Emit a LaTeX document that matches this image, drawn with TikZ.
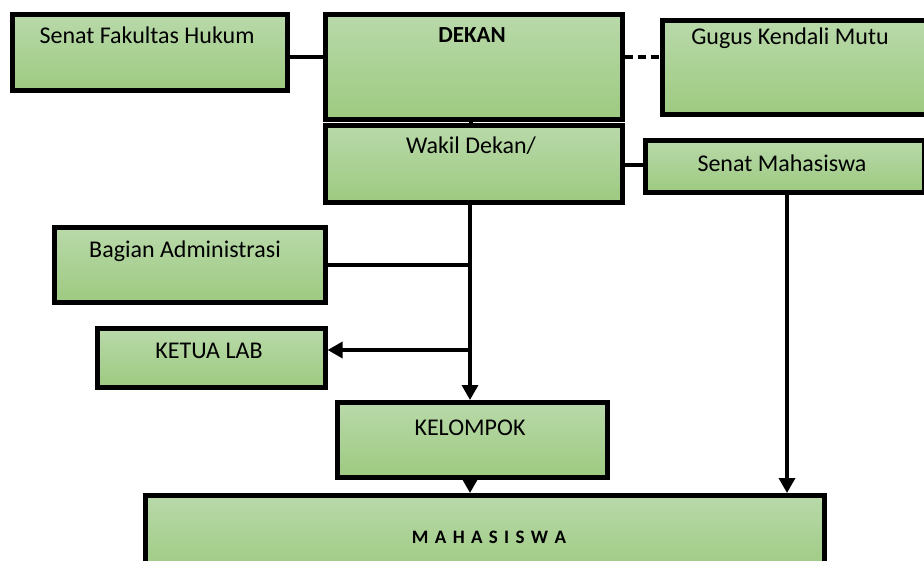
\documentclass[tikz,border=0pt]{standalone}
\usepackage{fontspec}
\setmainfont{Carlito}
\usetikzlibrary{arrows.meta,calc}
\definecolor{gtop}{HTML}{B9D9AA}
\definecolor{gbot}{HTML}{9DCA80}
\tikzset{
  box/.style={draw=black, line width=4.6pt, top color=gtop, bottom color=gbot, anchor=north west, inner sep=0pt},
  txt/.style={font=\fontsize{24}{27}\selectfont, inner sep=0pt},
  conn/.style={line width=3.4pt},
  arr/.style={line width=3.4pt, -{Triangle[length=15pt,width=16pt]}},
}
\begin{document}
\begin{tikzpicture}[x=1pt,y=-1pt]
\useasboundingbox (0,0) rectangle (924,561);
\clip (0,0) rectangle (924,561);
% boxes
\node[box, minimum width=275pt, minimum height=76pt] (sfh) at (10,12) {};
\node[box, minimum width=297pt, minimum height=105pt] (dekan) at (323,12) {};
\node[box, minimum width=264pt, minimum height=94pt] (gkm) at (660,18) {};
\node[box, minimum width=297pt, minimum height=77pt] (wakil) at (323,123) {};
\node[box, minimum width=279pt, minimum height=52pt] (smhs) at (643,138) {};
\node[box, minimum width=271pt, minimum height=75pt] (adm) at (52,225) {};
\node[box, minimum width=228pt, minimum height=59pt] (lab) at (95,326) {};
\node[box, minimum width=270pt, minimum height=75pt] (kel) at (335,400) {};
\node[box, minimum width=679pt, minimum height=80pt] (mhs) at (143,493) {};
% texts
\node[txt] (tsfh) at (147,35) {Senat Fakultas Hukum};
\node[txt, font=\fontsize{23}{26}\selectfont\bfseries] (tdekan) at (472,35) {DEKAN};
\node[txt] (tgkm) at (790,38) {Gugus Kendali Mutu};
\node[txt] (twakil) at (471,146) {Wakil Dekan/};
\node[txt] (tsmhs) at (782,163) {Senat Mahasiswa};
\node[txt] (tadm) at (185,251) {Bagian Administrasi};
\node[txt] (tlab) at (209,351) {KETUA LAB};
\node[txt] (tkel) at (470,428) {KELOMPOK};
\node[txt, font=\fontsize{19}{24}\selectfont\bfseries] (tmhs) at (489,537) {M\,\,A\,\,H\,\,A\,\,S\,\,I\,\,S\,\,W\,\,A};
% connectors
\coordinate (j1) at (470,265);
\coordinate (j2) at (470,350);
\draw[conn] (sfh.east |- 0,57) -- (dekan.west |- 0,57);
\draw[conn, dash pattern=on 8pt off 5pt] (dekan.east |- 0,57) -- (gkm.west |- 0,57);
\draw[conn] (dekan.south -| 471,0) -- (wakil.north -| 471,0);
\draw[conn] (wakil.east |- 0,165) -- (smhs.west |- 0,165);
\draw[arr] (wakil.south -| 470,0) -- (kel.north -| 470,0);
\draw[conn] (adm.east |- j1) -- (j1);
\draw[arr] (j2) -- (lab.east |- j2);
\draw[arr] (kel.south -| 470,0) -- (mhs.north -| 470,0);
\draw[arr] (smhs.south -| 787,0) -- (mhs.north -| 787,0);
\end{tikzpicture}
\end{document}
